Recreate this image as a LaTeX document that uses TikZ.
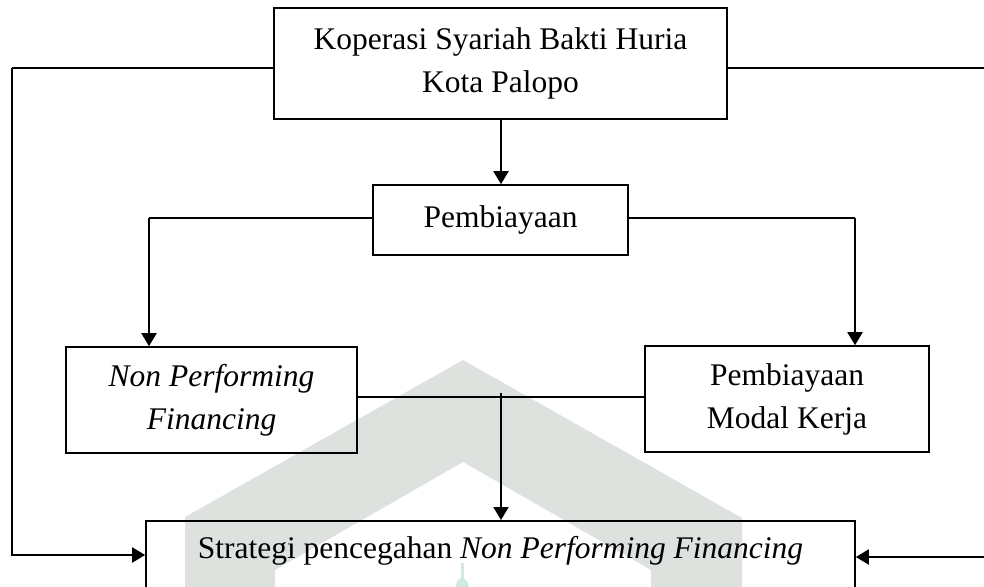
\documentclass[tikz,border=0pt]{standalone}
\usepackage{fontspec}
\setmainfont{Liberation Serif}
\usetikzlibrary{arrows.meta}
\definecolor{wmgrey}{RGB}{221,226,223}
\definecolor{wmmint}{RGB}{208,234,221}
\begin{document}
\begin{tikzpicture}[x=1pt,y=-1pt,
  box/.style={draw,line width=1.6pt,inner sep=0pt,align=center,
    font=\fontsize{31.5}{43}\selectfont},
  link/.style={line width=1.3pt},
  flow/.style={line width=2pt,-{Triangle[width=15pt,length=13pt]}},
]
\useasboundingbox (0,0) rectangle (984,586);
% background emblem
\fill[wmgrey] (185,600) -- (185,517) -- (463,360) -- (742,518) -- (742,600)
  -- (651,600) -- (651,570) -- (463,462) -- (275,570) -- (275,600) -- cycle;
\fill[wmmint] (461,563) rectangle (463.5,580);
\fill[wmmint] (455,590) -- (457,581) -- (462,577) -- (467,581) -- (470,590) -- cycle;

% boxes
\node[box,minimum width=453pt,minimum height=111pt] (top) at (500.5,63.5)
  {Koperasi Syariah Bakti Huria\\Kota Palopo};
\node[box,minimum width=255pt,minimum height=70pt] (pem) at (500.5,220)
  {Pembiayaan};
\node[box,minimum width=291pt,minimum height=106pt] (npf) at (211.5,400)
  {\itshape Non Performing\\\itshape Financing};
\node[box,minimum width=284pt,minimum height=106pt] (pmk) at (787,399)
  {Pembiayaan\\Modal Kerja};
\node[box,minimum width=709pt,text height=38pt,text depth=52pt,anchor=north]
  (str) at (500.5,520) {Strategi pencegahan \textit{Non Performing Financing}};

% routing points
\coordinate (lt) at (12,68);
\coordinate (rt) at (998,68);
\coordinate (lb) at (149,218);
\coordinate (rb) at (855,218);
\coordinate (jn) at (501,397);
\coordinate (js) at (501,393);

% connectors
\draw[flow] (top.south -| js) -- (pem.north -| js);
\draw[link] (top.west |- lt) -- (lt);
\draw[flow] (lt) |- (str.west |- 0,555);
\draw[link] (top.east |- rt) -- (rt);
\draw[flow] (rt) |- (str.east |- 0,557);
\draw[link] (pem.west |- lb) -- (lb);
\draw[flow] (lb) -- (npf.north -| lb);
\draw[link] (pem.east |- rb) -- (rb);
\draw[flow] (rb) -- (pmk.north -| rb);
\draw[link] (npf.east |- jn) -- (pmk.west |- jn);
\draw[flow] (js) -- (str.north -| js);
\end{tikzpicture}
\end{document}
